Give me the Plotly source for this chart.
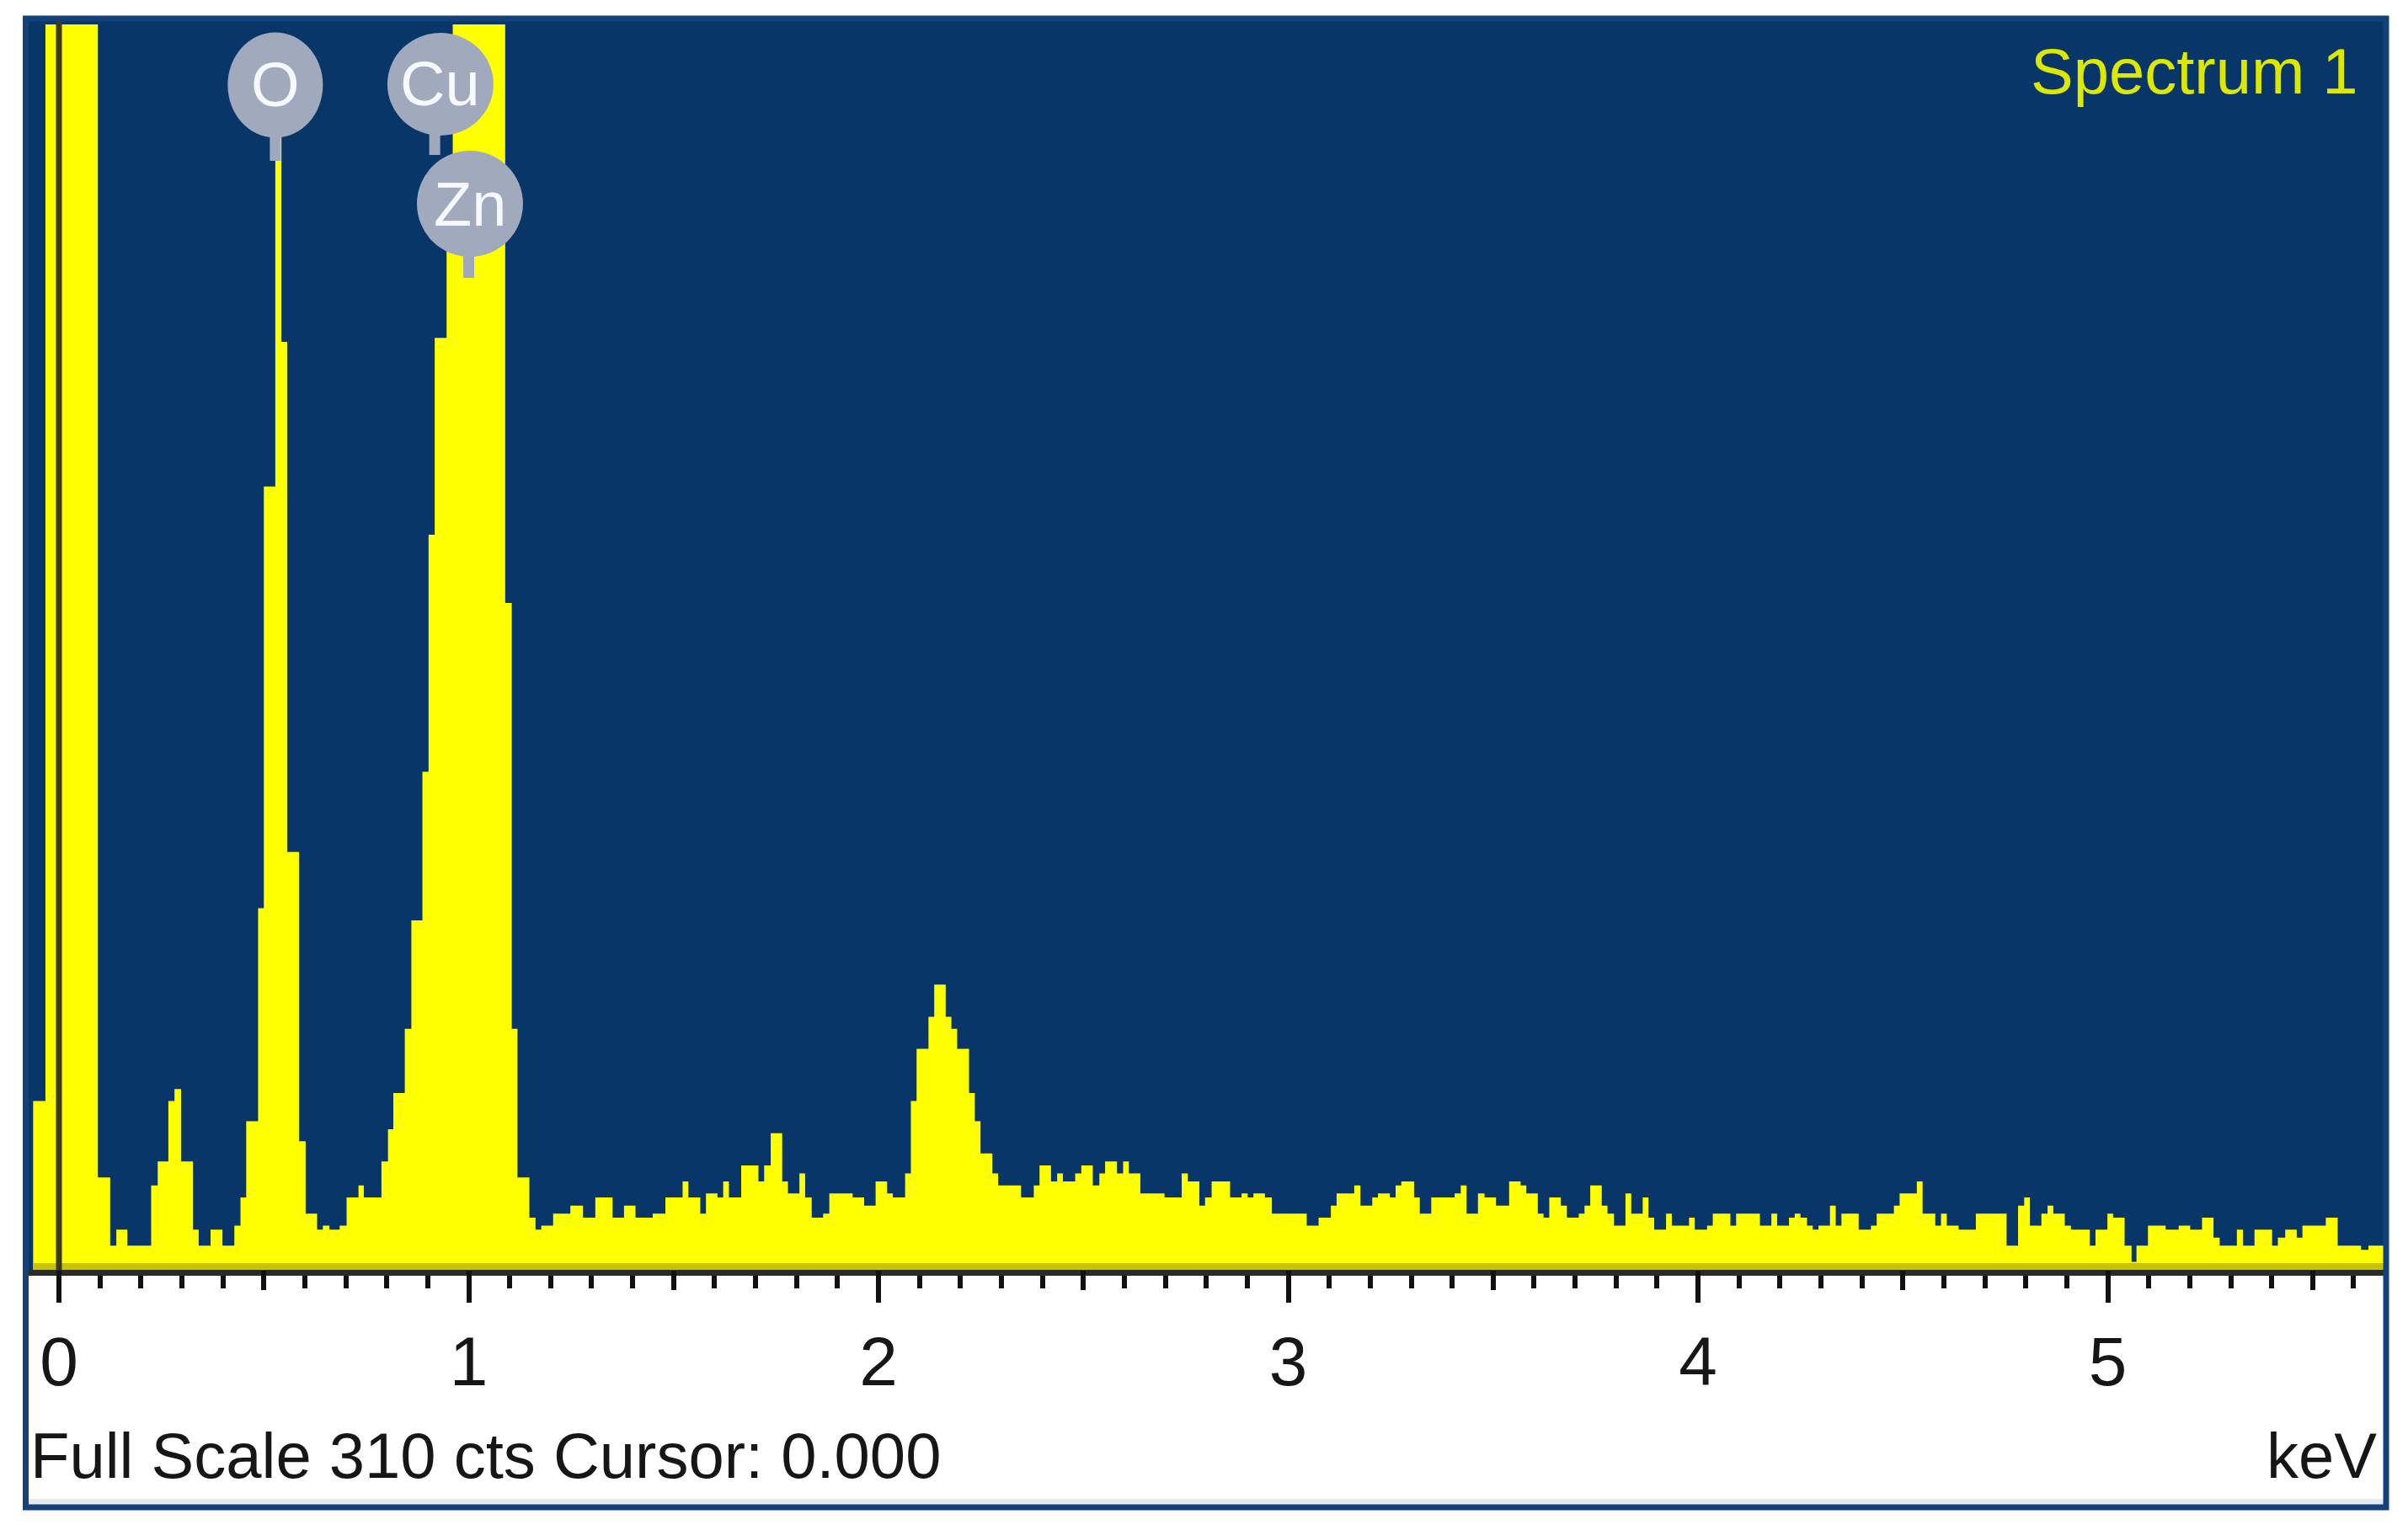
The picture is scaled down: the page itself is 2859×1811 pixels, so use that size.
import plotly.graph_objects as go

# EDS spectrum: left edge of each step (keV) and counts (display clipped at 310)
energy_kev = [
    -0.063, -0.033, 0.095, 0.125, 0.140, 0.167, 0.225, 0.241, 0.267, 0.282,
    0.298, 0.327, 0.341, 0.370, 0.399, 0.428, 0.443, 0.457, 0.486, 0.500,
    0.528, 0.543, 0.557, 0.586, 0.602, 0.630, 0.644, 0.660, 0.685, 0.702,
    0.731, 0.744, 0.787, 0.803, 0.816, 0.844, 0.860, 0.887, 0.902, 0.917,
    0.946, 0.961, 1.089, 1.105, 1.119, 1.148, 1.163, 1.177, 1.206, 1.248,
    1.279, 1.309, 1.351, 1.379, 1.407, 1.449, 1.480, 1.522, 1.536, 1.565,
    1.579, 1.607, 1.621, 1.635, 1.665, 1.707, 1.721, 1.737, 1.765, 1.779,
    1.807, 1.821, 1.837, 1.865, 1.880, 1.937, 1.965, 1.993, 2.021, 2.035,
    2.065, 2.079, 2.093, 2.122, 2.136, 2.164, 2.178, 2.192, 2.221, 2.235,
    2.249, 2.278, 2.292, 2.348, 2.379, 2.393, 2.421, 2.436, 2.450, 2.480,
    2.495, 2.523, 2.539, 2.553, 2.582, 2.597, 2.611, 2.639, 2.698, 2.740,
    2.755, 2.783, 2.797, 2.813, 2.858, 2.886, 2.901, 2.915, 2.943, 2.960,
    3.045, 3.074, 3.104, 3.118, 3.161, 3.176, 3.205, 3.219, 3.248, 3.262,
    3.276, 3.307, 3.321, 3.349, 3.406, 3.421, 3.435, 3.463, 3.479, 3.507,
    3.539, 3.567, 3.581, 3.609, 3.623, 3.637, 3.665, 3.680, 3.709, 3.723,
    3.737, 3.765, 3.779, 3.795, 3.823, 3.837, 3.865, 3.879, 3.893, 3.922,
    3.936, 3.978, 3.992, 4.022, 4.036, 4.079, 4.093, 4.151, 4.179, 4.193,
    4.222, 4.236, 4.250, 4.266, 4.280, 4.294, 4.322, 4.336, 4.350, 4.392,
    4.422, 4.436, 4.478, 4.492, 4.534, 4.548, 4.579, 4.593, 4.607, 4.636,
    4.678, 4.753, 4.781, 4.796, 4.810, 4.838, 4.853, 4.867, 4.895, 4.910,
    4.956, 4.970, 4.999, 5.013, 5.041, 5.058, 5.070, 5.098, 5.141, 5.173,
    5.201, 5.230, 5.258, 5.273, 5.315, 5.330, 5.358, 5.401, 5.415, 5.433,
    5.461, 5.475, 5.532, 5.561, 5.618, 5.636,
]
counts = [
    42, 310, 23, 6, 10, 6, 21, 27, 42, 45,
    27, 10, 6, 10, 6, 11, 18, 37, 90, 195,
    300, 231, 104, 32, 14, 10, 11, 10, 11, 18,
    21, 18, 27, 35, 44, 60, 87, 124, 183, 232,
    265, 310, 166, 60, 23, 13, 10, 11, 14, 16,
    13, 18, 13, 16, 13, 14, 18, 22, 18, 14,
    19, 18, 22, 18, 26, 22, 26, 34, 22, 19,
    24, 18, 13, 14, 19, 18, 16, 22, 19, 18,
    24, 42, 55, 63, 71, 63, 60, 55, 44, 37,
    29, 24, 21, 18, 21, 26, 22, 24, 22, 24,
    26, 21, 24, 27, 24, 27, 24, 19, 18, 24,
    22, 16, 18, 22, 18, 19, 18, 19, 18, 14,
    11, 13, 16, 19, 21, 16, 18, 19, 18, 21,
    22, 18, 14, 18, 19, 21, 14, 19, 18, 16,
    22, 21, 19, 14, 13, 18, 16, 13, 14, 16,
    21, 16, 14, 11, 19, 14, 18, 13, 10, 14,
    11, 13, 10, 11, 14, 11, 14, 11, 14, 11,
    13, 14, 13, 11, 10, 11, 16, 11, 14, 10,
    11, 14, 16, 19, 22, 14, 11, 14, 11, 10,
    14, 6, 16, 18, 11, 14, 16, 14, 11, 10,
    6, 10, 14, 13, 6, 2, 6, 11, 10, 11,
    10, 13, 8, 6, 10, 6, 10, 6, 8, 10,
    8, 11, 13, 6, 5, 6,
]
end_kev = 5.673
full_scale = 310

# element markers
element_names = ["O", "Cu", "Zn"]
element_kev = [0.528, 0.931, 1.003]

# the page body has an 8px margin, so the figure is made smaller and shifted coords are used
OFF = 8
W, H = 2859 - 2 * OFF, 1811 - 2 * OFF
PW, PH = 2800, 1486
ML, MT = 30 - OFF, 22 - OFF
MR, MB = W - ML - PW, H - MT - PH

BLUE = "#083669"
YELLOW = "#ffff00"
FONT = "Liberation Sans, Arial, sans-serif"


def py(y_page):
    # page pixel row -> paper y
    return (MT + OFF + PH - y_page) / PH


def px(x_page):
    return (x_page - ML - OFF) / PW


fig = go.Figure()

fig.add_trace(go.Scatter(
    x=energy_kev + [end_kev],
    y=counts + [counts[-1]],
    mode="lines",
    line=dict(shape="hv", width=0, color=YELLOW),
    fill="tozeroy",
    fillcolor=YELLOW,
    hoverinfo="skip",
    showlegend=False,
))
# invisible trace so the second axis (0.5 keV ticks) is drawn
fig.add_trace(go.Scatter(x=[0], y=[0], xaxis="x2", mode="markers",
                         marker=dict(opacity=0), showlegend=False, hoverinfo="skip"))

shapes = []
# darker strip along the base of the fill
shapes.append(dict(type="rect", xref="x", yref="paper", x0=energy_kev[0], x1=end_kev,
                   y0=0, y1=py(1500), fillcolor="#c8c400", line_width=0, layer="above"))
# cursor line at 0 keV
shapes.append(dict(type="line", xref="x", yref="paper", x0=0, x1=0, y0=0, y1=1,
                   line=dict(color="#3c3a1e", width=7), layer="above"))
# light strip and outer frame of the panel
shapes.append(dict(type="rect", xref="paper", yref="paper", x0=px(34), x1=px(2830),
                   y0=py(1787), y1=py(1780), fillcolor="#e6e9ef", line_width=0))
shapes.append(dict(type="rect", xref="paper", yref="paper", x0=px(30.5), x1=px(2833),
                   y0=py(1790), y1=1, line=dict(color="#15417a", width=7), layer="above"))

# element label balloons: centre row, width, height (page px)
label_geom = {"O": (101, 113, 125), "Cu": (100, 126, 122), "Zn": (242, 126, 126)}
stems = {"O": (160, 191, 0.0), "Cu": (155, 184, -0.014), "Zn": (291, 330, -0.003)}
annotations = []
for name, kev in zip(element_names, element_kev):
    yc, w, h = label_geom[name]
    y_top, y_bot, dx = stems[name]
    shapes.append(dict(type="line", xref="x", yref="paper", x0=kev + dx, x1=kev + dx,
                       y0=py(y_bot), y1=py(y_top),
                       line=dict(color="#a0a9bb", width=13), layer="above"))
    shapes.append(dict(type="circle", xref="x", yref="paper",
                       xsizemode="pixel", ysizemode="pixel",
                       xanchor=kev, yanchor=py(yc),
                       x0=-w / 2, x1=w / 2, y0=-h / 2, y1=h / 2,
                       fillcolor="#a1aabc", line_width=0, layer="above"))
    annotations.append(dict(x=kev, y=py(yc), xref="x", yref="paper", text=name,
                            showarrow=False, xanchor="center", yanchor="middle",
                            font=dict(family=FONT, size=74, color="#f6f9ff")))

annotations.append(dict(x=px(2802), y=py(84), xref="paper", yref="paper", text="Spectrum 1",
                        showarrow=False, xanchor="right", yanchor="middle",
                        font=dict(family=FONT, size=76, color="#dce800")))
annotations.append(dict(x=px(34), y=py(1728), xref="paper", yref="paper",
                        text="Full Scale %d cts Cursor: 0.000" % full_scale,
                        showarrow=False, xanchor="left", yanchor="middle",
                        font=dict(family=FONT, size=76, color="#161616")))
annotations.append(dict(x=px(2824), y=py(1728), xref="paper", yref="paper", text="keV",
                        showarrow=False, xanchor="right", yanchor="middle",
                        font=dict(family=FONT, size=76, color="#161616")))

x_range = [-0.0822, end_kev]

fig.update_layout(
    width=W, height=H,
    margin=dict(l=ML, r=MR, t=MT, b=MB),
    paper_bgcolor="white",
    plot_bgcolor=BLUE,
    showlegend=False,
    shapes=shapes,
    annotations=annotations,
    xaxis=dict(
        range=x_range, showgrid=False, zeroline=False, automargin=False,
        showline=True, linecolor="#2a2a2a", linewidth=7,
        ticks="outside", tick0=0, dtick=1, ticklen=32, tickwidth=6, tickcolor="#111111",
        tickfont=dict(family=FONT, size=82, color="#161616"),
        minor=dict(ticks="outside", dtick=0.1, tick0=0, ticklen=15, tickwidth=6,
                   tickcolor="#111111", showgrid=False),
    ),
    xaxis2=dict(
        range=x_range, overlaying="x", side="bottom", showgrid=False, zeroline=False,
        showline=False, showticklabels=False, automargin=False,
        ticks="outside", tick0=0, dtick=0.5, ticklen=23, tickwidth=6, tickcolor="#111111",
    ),
    yaxis=dict(range=[0, full_scale * 1486 / 1479], visible=False, fixedrange=True),
)

fig.write_html("out.html")
